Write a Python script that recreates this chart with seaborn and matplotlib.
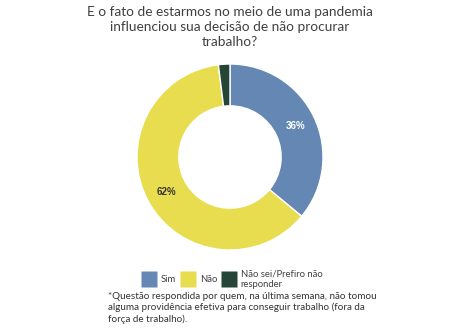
import matplotlib
matplotlib.use("Agg")
import matplotlib.pyplot as plt
import seaborn as sns
import numpy as np
from matplotlib.lines import Line2D

categories = ["Sim", "Não", "Não sei/Prefiro não\nresponder"]
values = [36, 62, 2]
value_labels = ["36%", "62%", ""]
colors = ["#6488B3", "#E8DD4F", "#254537"]
label_colors = ["white", "#333333", "white"]
title = "E o fato de estarmos no meio de uma pandemia\ninfluenciou sua decisão de não procurar\ntrabalho?"
footnote = ("*Questão respondida por quem, na última semana, não tomou\n"
            "alguma providência efetiva para conseguir trabalho (fora da\n"
            "força de trabalho).")

sns.set_style("white")
plt.rcParams["font.family"] = ["Lato", "DejaVu Sans"]

W, H = 454, 335
fig = plt.figure(figsize=(W / 100, H / 100), dpi=100)
fig.patch.set_facecolor("white")

cx, cy, r = 230, 157, 93
ax = fig.add_axes([(cx - r) / W, (H - cy - r) / H, 2 * r / W, 2 * r / H])
wedges, _ = ax.pie(values, colors=colors, startangle=90, counterclock=False,
                   radius=1, wedgeprops=dict(width=0.45, edgecolor="white", linewidth=1))
for w, lab, lc in zip(wedges, value_labels, label_colors):
    theta = (w.theta1 + w.theta2) / 2
    rr = 0.775
    ax.text(rr * np.cos(np.radians(theta)), rr * np.sin(np.radians(theta)), lab,
            ha="center", va="center", color=lc, fontsize=7, fontweight="bold",
            family=["Liberation Sans", "DejaVu Sans"])
ax.set_xlim(-1, 1)
ax.set_ylim(-1, 1)
ax.set_aspect("equal")
ax.axis("off")

fig.text(230 / W, 1 - 6 / H, title, ha="center", va="top", fontsize=9.8,
         color="#404040", linespacing=1.3)

handles = [Line2D([], [], marker="s", linestyle="none", markersize=11.3,
                  markerfacecolor=c, markeredgecolor="none") for c in colors]
fig.legend(handles, categories, loc="center", bbox_to_anchor=(232 / W, 1 - 279 / H),
           ncol=3, frameon=False, fontsize=6.8, handlelength=1.6,
           handletextpad=0.45, columnspacing=0.45, labelcolor="#404040")

fig.text(108 / W, 1 - 292 / H, footnote, ha="left", va="top", fontsize=7.1,
         color="#333333", linespacing=1.25)

fig.savefig("out.png", dpi=100, facecolor="white")
